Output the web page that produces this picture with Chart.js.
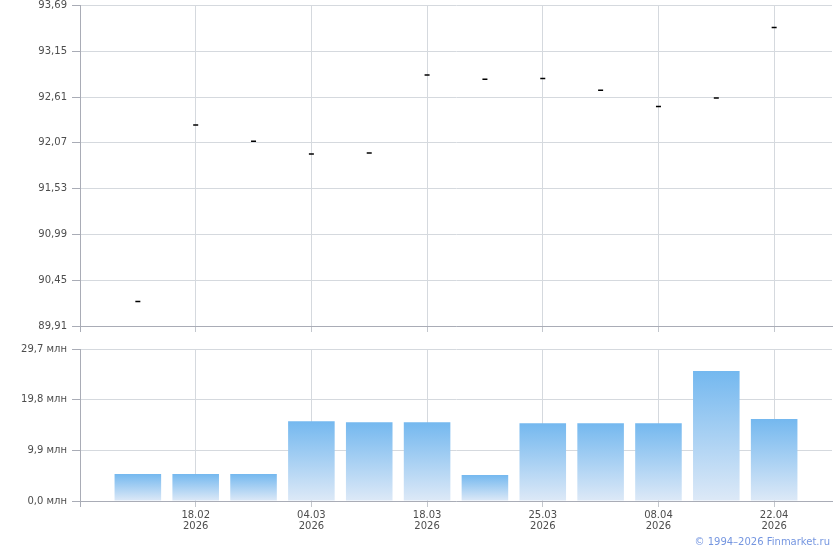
<!DOCTYPE html>
<html>
<head>
<meta charset="utf-8">
<style>
    body { margin: 0; background: #fff; }
    #wrap { position: relative; width: 840px; height: 550px; }
    #priceBox { position: absolute; left: 0; top: 0; width: 840px; height: 340px; }
    #volBox { position: absolute; left: 0; top: 340px; width: 840px; height: 210px; }
    .copy { position: absolute; right: 10px; top: 536px; font: 10px "DejaVu Sans", sans-serif; color: #7596e0; }
</style>
</head>
<body>
<div id="wrap">
    <div id="priceBox"><canvas id="priceChart"></canvas></div>
    <div id="volBox"><canvas id="volChart"></canvas></div>
    <div class="copy">© 1994–2026 Finmarket.ru</div>
</div>

<script src="https://cdn.jsdelivr.net/npm/chart.js@4.4.1/dist/chart.umd.min.js"></script>
<script>
// data
var dates = ['11.02', '18.02', '25.02', '04.03', '11.03', '18.03', '20.03', '25.03', '01.04', '08.04', '15.04', '22.04'];
var prices = [90.20, 92.28, 92.09, 91.94, 91.95, 92.87, 92.82, 92.83, 92.69, 92.50, 92.60, 93.43];
var volumes = [5.3, 5.3, 5.3, 15.6, 15.4, 15.4, 5.1, 15.2, 15.2, 15.2, 25.4, 16.0];
var priceTicks = [89.91, 90.45, 90.99, 91.53, 92.07, 92.61, 93.15, 93.69];
var volTicks = [0, 9.9, 19.8, 29.7];
var xTicks = [0, 2, 4, 6, 8, 10, 12];
var xTickLabels = ['', '18.02', '04.03', '18.03', '25.03', '08.04', '22.04'];
var xYear = '2026';

var FONT = { family: '"DejaVu Sans", sans-serif', size: 10 };
var TEXT = '#4d4d4d';
var GRID = '#d5d9de';
var AXIS = '#a9acb6';

Chart.defaults.font.family = FONT.family;
Chart.defaults.font.size = 10;
Chart.defaults.color = TEXT;

function xScale(showLabels, height) {
    return {
        type: 'linear',
        offset: false,
        min: 0,
        max: dates.length + 1,
        afterBuildTicks: function(s) {
            s.ticks = xTicks.map(function(v) { return { value: v }; });
        },
        afterFit: function(s) {
            s.height = height;
            s.paddingLeft = 0;
            s.paddingRight = 0;
        },
        grid: {
            offset: false,
            color: function(c) { return c.tick && c.tick.value === 0 ? 'rgba(0,0,0,0)' : GRID; },
            tickColor: function(c) { return c.tick && c.tick.value === 0 ? AXIS : '#c3c7cd'; },
            tickLength: 6
        },
        border: { color: AXIS },
        ticks: {
            display: showLabels,
            autoSkip: false,
            maxRotation: 0,
            padding: 3,
            font: { family: FONT.family, size: 10, lineHeight: 1.1 },
            callback: function(v) {
                var i = xTicks.indexOf(v);
                if (i <= 0) return '';
                return [xTickLabels[i], xYear];
            }
        }
    };
}

function yScale(ticks, fmt) {
    return {
        min: ticks[0],
        max: ticks[ticks.length - 1],
        afterBuildTicks: function(s) {
            s.ticks = ticks.map(function(v) { return { value: v }; });
        },
        afterFit: function(s) {
            s.width = 80;
            s.paddingTop = 0;
            s.paddingBottom = 0;
        },
        grid: { color: GRID, tickColor: AXIS, tickLength: 8 },
        border: { color: AXIS },
        ticks: { padding: 5, callback: fmt }
    };
}

new Chart(document.getElementById('priceChart'), {
    type: 'scatter',
    data: {
        datasets: [{
            label: 'Цена',
            data: prices.map(function(p, i) { return { x: i + 1, y: p }; }),
            pointStyle: 'line',
            radius: 2.5,
            borderWidth: 1.5,
            borderColor: '#000',
            backgroundColor: '#000',
            showLine: false
        }]
    },
    options: {
        responsive: true,
        maintainAspectRatio: false,
        animation: false,
        layout: { padding: { top: 5, right: 8, left: 0, bottom: 0 } },
        plugins: { legend: { display: false }, tooltip: { enabled: false } },
        scales: {
            x: xScale(false, 14),
            y: yScale(priceTicks, function(v) { return v.toFixed(2).replace('.', ','); })
        }
    }
});

new Chart(document.getElementById('volChart'), {
    type: 'bar',
    data: {
        datasets: [{
            label: 'Объём',
            data: volumes.map(function(v, i) { return { x: i + 1, y: v }; }),
            categoryPercentage: 1,
            barPercentage: 0.805,
            backgroundColor: function(c) {
                var chart = c.chart;
                if (!chart.chartArea || c.raw == null) return '#74b8ef';
                var ys = chart.scales.y;
                var top = ys.getPixelForValue(c.raw.y);
                var bottom = ys.getPixelForValue(0);
                var g = chart.ctx.createLinearGradient(0, top, 0, bottom);
                g.addColorStop(0, '#74b8ef');
                g.addColorStop(1, '#dde9f7');
                return g;
            }
        }]
    },
    options: {
        responsive: true,
        maintainAspectRatio: false,
        animation: false,
        layout: { padding: { top: 9, right: 8, left: 0, bottom: 0 } },
        plugins: { legend: { display: false }, tooltip: { enabled: false } },
        scales: {
            x: xScale(true, 49),
            y: yScale(volTicks, function(v) { return v.toFixed(1).replace('.', ',') + ' млн'; })
        }
    }
});
</script>
</body>
</html>
